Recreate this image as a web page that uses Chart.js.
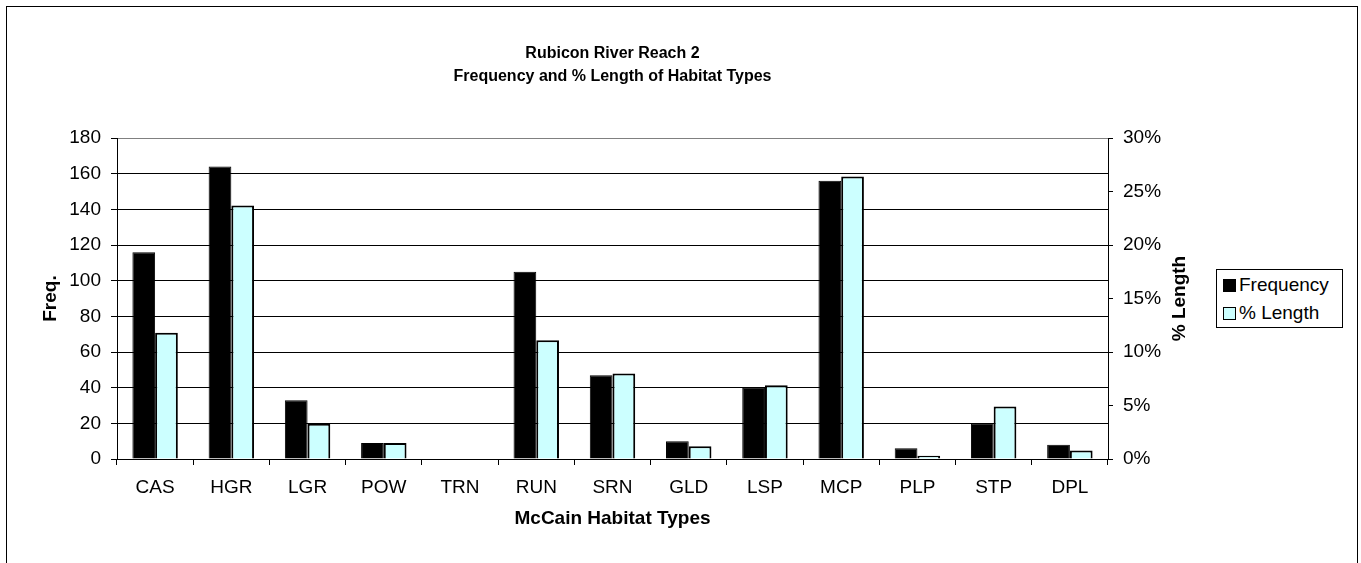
<!DOCTYPE html>
<html>
<head>
<meta charset="utf-8">
<script src="https://cdn.jsdelivr.net/npm/chart.js@4/dist/chart.umd.min.js"></script>
<style>
  body { margin: 0; background: #fff; overflow: hidden; width: 1361px; height: 563px; position: relative; }
  #frame { position: absolute; left: 6px; top: 6px; width: 1350px; height: 700px; border: 1px solid #000; }
  #wrap { position: absolute; left: 0; top: 0; }
  #legend { position: absolute; left: 1216px; top: 269px; width: 125px; height: 57px; border: 1px solid #000; background: #fff;
            font-family: Arial, "Liberation Sans", sans-serif; font-size: 19px; color: #000; }
  .item { position: absolute; left: 6px; height: 22px; line-height: 22px; white-space: nowrap; }
  .sw { display: inline-block; width: 11px; height: 11px; border: 1px solid #000; margin-right: 3px; vertical-align: -1px; }
</style>
</head>
<body>
<div id="frame"></div>
<div id="wrap"><canvas id="chart" width="1225" height="563"></canvas></div>
<div id="legend"></div>
<script>
// datos del grafico
const categorias = ['CAS', 'HGR', 'LGR', 'POW', 'TRN', 'RUN', 'SRN', 'GLD', 'LSP', 'MCP', 'PLP', 'STP', 'DPL'];
const frecuencia = [116, 164, 33, 9, 0, 105, 47, 10, 40, 156, 6, 20, 8];
const pctLongitud = [11.8, 23.7, 3.3, 1.5, 0, 11.1, 8.0, 1.2, 6.9, 26.4, 0.3, 4.9, 0.8];
const nombresSeries = ['Frequency', '% Length'];
const coloresSeries = ['#000000', '#CCFFFF'];
const titulo = ['Rubicon River Reach 2', 'Frequency and % Length of Habitat Types'];

Chart.defaults.font.family = 'Arial, "Liberation Sans", sans-serif';
Chart.defaults.color = '#000';

const fuente = { size: 19 };
const fuenteBold = { size: 19, weight: 'bold' };

// titulo del eje derecho (rotado hacia arriba como en Excel)
const tituloDerecho = {
  id: 'tituloDerecho',
  afterDraw(chart) {
    const ctx = chart.ctx;
    const area = chart.chartArea;
    ctx.save();
    ctx.translate(1180, (area.top + area.bottom) / 2);
    ctx.rotate(-Math.PI / 2);
    ctx.font = 'bold 19px Arial, "Liberation Sans", sans-serif';
    ctx.fillStyle = '#000';
    ctx.textAlign = 'center';
    ctx.textBaseline = 'middle';
    ctx.fillText('% Length', 0, 0);
    ctx.restore();
  }
};

const ctx = document.getElementById('chart').getContext('2d');
let chartInstance = new Chart(ctx, {
  type: 'bar',
  data: {
    labels: categorias,
    datasets: [{
      label: nombresSeries[0],
      data: frecuencia,
      backgroundColor: coloresSeries[0],
      borderColor: '#000',
      borderWidth: 1,
      yAxisID: 'y'
    }, {
      label: nombresSeries[1],
      data: pctLongitud,
      backgroundColor: coloresSeries[1],
      borderColor: '#000',
      borderWidth: 2,
      yAxisID: 'y1'
    }]
  },
  options: {
    responsive: false,
    animation: false,
    categoryPercentage: 0.596,
    barPercentage: 1.0,
    layout: { padding: { top: 42, left: 0, right: 0, bottom: 0 } },
    plugins: {
      legend: { display: false },
      tooltip: { enabled: false },
      title: {
        display: true,
        text: titulo,
        font: { size: 16, weight: 'bold', lineHeight: 1.44 },
        color: '#000',
        padding: { top: 0, bottom: 50 }
      }
    },
    scales: {
      x: {
        grid: { offset: true, drawOnChartArea: false, tickLength: 6, color: '#000' },
        border: { color: '#000' },
        ticks: { font: fuente, padding: 11, maxRotation: 0 },
        title: { display: true, text: 'McCain Habitat Types', font: fuenteBold, padding: { top: 0, bottom: 33 } },
        afterFit(scale) { scale.height = 104; }
      },
      y: {
        position: 'left',
        min: 0, max: 180,
        ticks: { stepSize: 20, font: fuente, padding: 10 },
        grid: {
          color: c => (c.tick && c.tick.value === 180) ? '#808080' : '#000',
          tickColor: '#000',
          tickLength: 6
        },
        border: { color: '#000' },
        title: { display: true, text: 'Freq.', font: fuenteBold, padding: { top: 39, bottom: 0 } },
        afterFit(scale) { scale.width = 117; }
      },
      y1: {
        position: 'right',
        min: 0, max: 30,
        ticks: { stepSize: 5, font: fuente, padding: 10, callback: v => v + '%' },
        grid: { drawOnChartArea: false, tickLength: 5, color: '#000' },
        border: { color: '#000' },
        afterFit(scale) { scale.width = 117; }
      }
    }
  },
  plugins: [tituloDerecho]
});

// leyenda
let template = '';
nombresSeries.forEach((nombre, i) => {
  template += `<div class="item" style="top:${4 + i * 28}px"><span class="sw" style="background:${coloresSeries[i]}"></span>${nombre}</div>`;
});
document.getElementById('legend').innerHTML = template;
</script>
</body>
</html>
